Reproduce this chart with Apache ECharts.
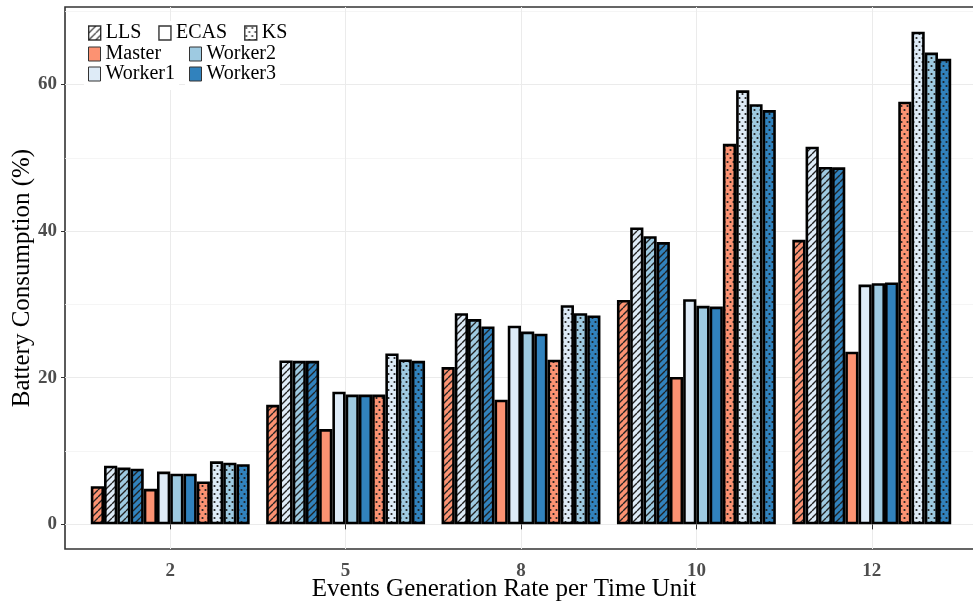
<!DOCTYPE html>
<html>
<head>
<meta charset="utf-8">
<script src="https://cdn.jsdelivr.net/npm/echarts@6/dist/echarts.min.js"></script>
<style>
  html, body { margin: 0; padding: 0; background: #ffffff; }
  #chart { width: 973px; height: 603px; }
</style>
</head>
<body>
<div id="chart"></div>
<script>
// Event generation rates (x categories) and the y tick values
const rates = ['2', '5', '8', '10', '12'];
const yTicks = [0, 20, 40, 60];
const yMinorTicks = [10, 30, 50, 70];
const schemes = ['LLS', 'ECAS', 'KS'];
const nodes = ['Master', 'Worker1', 'Worker2', 'Worker3'];

// Battery consumption (%) per rate
const llsMaster   = [5.2, 16.3, 21.45, 30.6, 38.8];
const llsWorker1  = [8.0, 22.35, 28.8, 40.5, 51.5];
const llsWorker2  = [7.75, 22.3, 28.0, 39.3, 48.75];
const llsWorker3  = [7.6, 22.3, 27.0, 38.5, 48.7];
const ecasMaster  = [4.85, 13.0, 17.0, 20.1, 23.55];
const ecasWorker1 = [7.2, 18.1, 27.1, 30.7, 32.7];
const ecasWorker2 = [6.9, 17.7, 26.3, 29.8, 32.9];
const ecasWorker3 = [6.9, 17.7, 26.0, 29.7, 33.0];
const ksMaster    = [5.85, 17.7, 22.45, 51.9, 57.65];
const ksWorker1   = [8.6, 23.3, 29.9, 59.2, 67.2];
const ksWorker2   = [8.4, 22.5, 28.8, 57.3, 64.35];
const ksWorker3   = [8.2, 22.3, 28.5, 56.5, 63.5];

const values = {
  LLS:  [llsMaster, llsWorker1, llsWorker2, llsWorker3],
  ECAS: [ecasMaster, ecasWorker1, ecasWorker2, ecasWorker3],
  KS:   [ksMaster, ksWorker1, ksWorker2, ksWorker3]
};

const nodeColors = { Master: '#FC9272', Worker1: '#DEEBF7', Worker2: '#9ECAE1', Worker3: '#3182BD' };
const schemeFill = { LLS: 'hatch', ECAS: 'plain', KS: 'dots' };
const SERIF = '"Liberation Serif", "Times New Roman", serif';

// Fill for a bar: base colour with optional diagonal hatching or dots
function fill(base, kind) {
  if (kind === 'plain') return base;
  const c = document.createElement('canvas');
  const w = kind === 'dots' ? 6 : 7;
  const h = kind === 'dots' ? 8 : 7;
  c.width = w; c.height = h;
  const g = c.getContext('2d');
  g.fillStyle = base;
  g.fillRect(0, 0, w, h);
  g.strokeStyle = '#222';
  g.fillStyle = '#222';
  if (kind === 'hatch') {
    g.lineWidth = 1.4;
    g.beginPath();
    for (const o of [-w, 0, w]) { g.moveTo(o, h); g.lineTo(o + w, 0); }
    g.stroke();
  } else {
    g.beginPath(); g.arc(1.5, 2, 1.1, 0, Math.PI * 2); g.fill();
    g.beginPath(); g.arc(4.5, 6, 1.1, 0, Math.PI * 2); g.fill();
  }
  return { image: c, repeat: 'repeat' };
}

const allValues = [].concat(...schemes.map(s => [].concat(...values[s])));
const yMax = Math.max(...allValues);
const pad = yMax * 0.05;

const series = [];
schemes.forEach(s => {
  nodes.forEach((n, k) => {
    series.push({
      type: 'bar',
      name: n,
      data: values[s][k].map((v, i) => [i + 1, v]),
      barGap: '0%',
      barCategoryGap: '9.4%',
      itemStyle: { color: fill(nodeColors[n], schemeFill[s]), borderColor: '#000', borderWidth: 2.6 },
      emphasis: { disabled: true }
    });
  });
});
// legend entries for the three schemes
schemes.forEach(s => series.push({ type: 'scatter', name: s, data: [] }));

const legendText = { fontFamily: SERIF, fontSize: 20, color: '#000', lineHeight: 18 };
const legendBase = {
  icon: 'rect', itemWidth: 12, itemHeight: 14, itemGap: 17,
  selectedMode: false, textStyle: legendText, backgroundColor: '#fff', padding: [2, 4]
};

const option = {
  animation: false,
  grid: {
    left: 65, right: -4, top: 7, bottom: 54,
    outerBoundsMode: 'none', containLabel: false,
    show: true, borderColor: '#333', borderWidth: 1.6
  },
  legend: [
    Object.assign({}, legendBase, {
      left: 84, top: 21, orient: 'horizontal',
      data: schemes.map(s => ({
        name: s,
        itemStyle: { color: fill('#ffffff', schemeFill[s]), borderColor: '#000', borderWidth: 1.4 }
      }))
    }),
    Object.assign({}, legendBase, {
      left: 84, top: 42, orient: 'vertical', itemGap: 0, padding: [2, 4, 6, 4],
      data: ['Master', 'Worker1'].map(n => ({ name: n, itemStyle: { color: nodeColors[n], borderColor: '#333', borderWidth: 1 } }))
    }),
    Object.assign({}, legendBase, {
      left: 185, top: 42, orient: 'vertical', itemGap: 0, padding: [2, 4, 6, 4],
      data: ['Worker2', 'Worker3'].map(n => ({ name: n, itemStyle: { color: nodeColors[n], borderColor: '#333', borderWidth: 1 } }))
    })
  ],
  xAxis: {
    type: 'value',
    min: 0.4,
    max: rates.length + 0.6,
    name: 'Events Generation Rate per Time Unit',
    nameLocation: 'middle',
    nameGap: 28,
    nameMoveOverlap: false,
    nameTextStyle: { fontFamily: SERIF, fontSize: 25, color: '#000', padding: [0, 34, 0, 0] },
    axisLine: { show: false },
    axisTick: { show: true, length: 5, lineStyle: { color: '#333', width: 1 }, customValues: rates.map((r, i) => i + 1) },
    axisLabel: {
      customValues: rates.map((r, i) => i + 1),
      formatter: v => rates[Math.round(v) - 1],
      fontFamily: SERIF, fontWeight: 'bold', fontSize: 19, color: '#4d4d4d', margin: 13
    },
    splitLine: { show: true, lineStyle: { color: '#ebebeb', width: 1 } }
  },
  yAxis: [
    {
      type: 'value',
      min: -pad,
      max: yMax + pad,
      name: 'Battery Consumption (%)',
      nameLocation: 'middle',
      nameGap: 30,
      nameMoveOverlap: false,
      nameTextStyle: { fontFamily: SERIF, fontSize: 25, color: '#000' },
      axisLine: { show: false },
      axisTick: { show: true, length: 4, lineStyle: { color: '#333', width: 1 }, customValues: yTicks },
      axisLabel: { customValues: yTicks, fontFamily: SERIF, fontWeight: 'bold', fontSize: 19, color: '#4d4d4d', margin: 8 },
      splitLine: { show: true, lineStyle: { color: '#ebebeb', width: 1 } }
    },
    {
      type: 'value',
      min: -pad,
      max: yMax + pad,
      position: 'left',
      axisLine: { show: false },
      axisTick: { show: false, customValues: yMinorTicks },
      axisLabel: { show: false, customValues: yMinorTicks },
      splitLine: { show: true, lineStyle: { color: '#f3f3f3', width: 0.8 } }
    }
  ],
  series: series
};

const chart = echarts.init(document.getElementById('chart'), null, { renderer: 'canvas' });
chart.setOption(option);
</script>
</body>
</html>
